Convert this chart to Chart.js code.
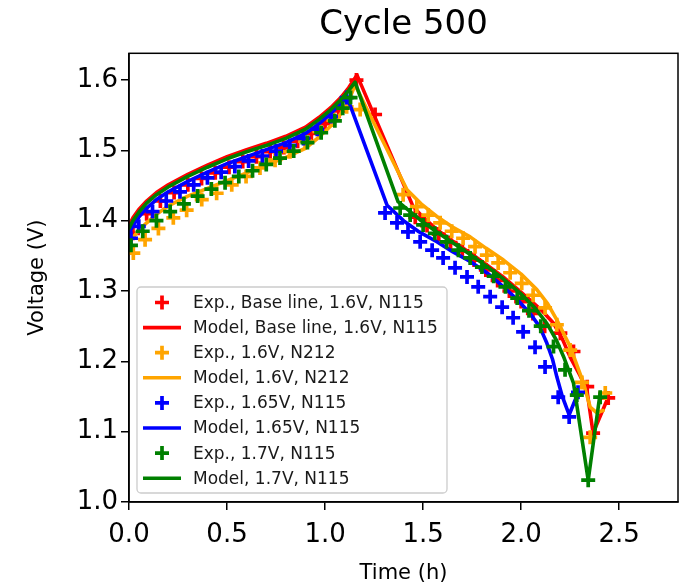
<!DOCTYPE html>
<html><head><meta charset="utf-8">
<script src="https://cdn.jsdelivr.net/npm/chart.js@4"></script>
<style>html,body{margin:0;padding:0;background:#fff}</style>
</head><body>
<canvas id="c" width="692" height="588" style="display:block;width:692px;height:588px"></canvas>
<script>
// ---------- data ----------
const titleText = 'Cycle 500';
const xLabel = 'Time (h)';
const yLabel = 'Voltage (V)';
const xTicks = [0.0, 0.5, 1.0, 1.5, 2.0, 2.5];
const yTicks = [1.0, 1.1, 1.2, 1.3, 1.4, 1.5, 1.6];

const seriesLabels = [
  'Exp., Base line, 1.6V, N115', 'Model, Base line, 1.6V, N115',
  'Exp., 1.6V, N212', 'Model, 1.6V, N212',
  'Exp., 1.65V, N115', 'Model, 1.65V, N115',
  'Exp., 1.7V, N115', 'Model, 1.7V, N115'
];
const seriesColors = ['#ff0000','#ff0000','#ffa500','#ffa500','#0000ff','#0000ff','#008000','#008000'];

// Base line 1.6V N115 (red)
const redExpT = [0.02,0.09,0.16,0.23,0.30,0.37,0.44,0.51,0.58,0.65,0.72,0.79,0.86,0.93,1.00,1.07,1.16,1.255,
                 1.46,1.52,1.58,1.64,1.70,1.76,1.82,1.88,1.94,2.00,2.06,2.12,2.20,2.267,2.337,2.367,2.444];
const redExpV = [1.382,1.410,1.428,1.440,1.451,1.460,1.468,1.476,1.484,1.491,1.498,1.504,1.513,1.524,1.538,1.556,1.600,1.551,
                 1.405,1.393,1.381,1.369,1.357,1.344,1.330,1.315,1.300,1.285,1.268,1.250,1.240,1.214,1.164,1.098,1.148];
const redModT = [0,0.02,0.05,0.09,0.14,0.20,0.30,0.40,0.50,0.60,0.70,0.80,0.90,0.97,1.03,1.08,1.12,1.163,
                 1.449,1.50,1.571,1.65,1.74,1.82,1.908,1.98,2.046,2.11,2.163,2.21,2.25,2.30,2.335,2.367,2.444];
const redModV = [1.393,1.404,1.416,1.428,1.440,1.451,1.466,1.479,1.491,1.501,1.510,1.520,1.533,1.547,1.561,1.575,1.589,1.607,
                 1.420,1.405,1.387,1.371,1.354,1.338,1.320,1.303,1.287,1.271,1.255,1.232,1.206,1.180,1.160,1.098,1.149];

// 1.6V N212 (orange)
const orgExpT = [0.022,0.082,0.150,0.226,0.294,0.371,0.447,0.524,0.597,0.668,0.745,0.821,0.898,0.971,1.043,1.11,1.179,
                 1.398,1.468,1.526,1.587,1.646,1.704,1.765,1.825,1.883,1.944,2.003,2.061,2.122,2.182,2.25,2.31,2.352,2.429];
const orgExpV = [1.354,1.373,1.389,1.404,1.415,1.430,1.439,1.451,1.463,1.475,1.486,1.498,1.513,1.527,1.543,1.562,1.558,
                 1.437,1.420,1.408,1.397,1.385,1.375,1.363,1.351,1.340,1.326,1.311,1.294,1.276,1.252,1.216,1.170,1.092,1.155];
const orgModT = [0,0.02,0.05,0.09,0.14,0.20,0.30,0.40,0.50,0.60,0.70,0.80,0.90,0.97,1.03,1.08,1.12,1.153,
                 1.418,1.49,1.570,1.65,1.740,1.82,1.910,2.0,2.080,2.135,2.182,2.25,2.318,2.352,2.385,2.418];
const orgModV = [1.368,1.376,1.386,1.397,1.409,1.421,1.435,1.446,1.457,1.468,1.479,1.490,1.503,1.519,1.535,1.552,1.570,1.593,
                 1.444,1.424,1.406,1.391,1.377,1.361,1.344,1.324,1.302,1.282,1.259,1.221,1.169,1.135,1.127,1.130];

// 1.65V N115 (blue)
const bluExpT = [0.01,0.05,0.12,0.19,0.26,0.33,0.40,0.47,0.54,0.61,0.68,0.75,0.82,0.89,0.96,1.03,1.11,
                 1.306,1.367,1.423,1.485,1.546,1.602,1.663,1.724,1.781,1.842,1.903,1.959,2.010,2.071,2.122,2.189,2.245,2.29];
const bluExpV = [1.375,1.392,1.413,1.428,1.441,1.451,1.461,1.469,1.477,1.485,1.492,1.499,1.507,1.517,1.530,1.548,1.575,
                 1.411,1.397,1.384,1.370,1.358,1.347,1.333,1.320,1.306,1.292,1.277,1.262,1.242,1.220,1.192,1.149,1.121,1.156];
const bluModT = [0,0.02,0.05,0.09,0.14,0.20,0.30,0.40,0.50,0.60,0.70,0.80,0.90,0.97,1.03,1.08,1.112,
                 1.316,1.40,1.48,1.57,1.65,1.74,1.83,1.91,1.98,2.046,2.095,2.131,2.16,2.182,2.21,2.245,2.29];
const bluModV = [1.382,1.393,1.405,1.418,1.430,1.441,1.456,1.469,1.481,1.491,1.501,1.511,1.524,1.538,1.553,1.566,1.576,
                 1.422,1.400,1.384,1.370,1.356,1.342,1.325,1.306,1.288,1.268,1.249,1.226,1.203,1.178,1.150,1.124,1.155];

// 1.7V N115 (green)
const grnExpT = [0.01,0.07,0.14,0.21,0.28,0.35,0.42,0.49,0.56,0.63,0.70,0.77,0.84,0.91,0.98,1.05,1.09,1.13,
                 1.383,1.434,1.50,1.56,1.62,1.68,1.74,1.80,1.86,1.92,1.98,2.04,2.10,2.165,2.224,2.284,2.342,2.403];
const grnExpV = [1.365,1.385,1.400,1.413,1.424,1.435,1.445,1.454,1.463,1.471,1.480,1.489,1.499,1.511,1.525,1.542,1.560,1.575,
                 1.418,1.408,1.394,1.382,1.370,1.358,1.347,1.334,1.321,1.306,1.290,1.272,1.250,1.221,1.188,1.152,1.031,1.149];
const grnModT = [0,0.02,0.05,0.09,0.14,0.20,0.30,0.40,0.50,0.60,0.70,0.80,0.90,0.97,1.03,1.08,1.12,1.153,
                 1.372,1.485,1.57,1.655,1.74,1.825,1.91,1.995,2.07,2.131,2.18,2.216,2.267,2.342,2.403];
const grnModV = [1.389,1.400,1.412,1.425,1.437,1.448,1.463,1.476,1.488,1.498,1.507,1.517,1.530,1.544,1.558,1.572,1.585,1.597,
                 1.427,1.401,1.384,1.368,1.352,1.335,1.317,1.297,1.276,1.254,1.230,1.207,1.169,1.031,1.155];

// ---------- build datasets ----------
const pts = (T, V) => T.map((t, i) => ({x: t, y: V[i]}));
const series = [
  [redExpT, redExpV, 'exp'], [redModT, redModV, 'model'],
  [orgExpT, orgExpV, 'exp'], [orgModT, orgModV, 'model'],
  [bluExpT, bluExpV, 'exp'], [bluModT, bluModV, 'model'],
  [grnExpT, grnExpV, 'exp'], [grnModT, grnModV, 'model']
];
const datasets = series.map((s, i) => {
  const c = seriesColors[i];
  const base = {label: seriesLabels[i], data: pts(s[0], s[1]), order: series.length - i, clip: 0};
  if (s[2] === 'exp') {
    return Object.assign(base, {showLine: false, pointStyle: 'cross', pointRadius: 7, pointHoverRadius: 7,
      pointBorderWidth: 3.7, borderColor: c, backgroundColor: c});
  }
  return Object.assign(base, {showLine: true, pointRadius: 0, borderWidth: 3.6, borderColor: c,
    backgroundColor: c, tension: 0, borderJoinStyle: 'round', borderCapStyle: 'round', fill: false});
});

const FONT = "'DejaVu Sans', sans-serif";
Chart.defaults.font.family = FONT;
Chart.defaults.color = '#000';

const framePlugin = {
  id: 'frameLegend',
  afterDraw(chart) {
    const ctx = chart.ctx, a = chart.chartArea;
    ctx.save();
    ctx.strokeStyle = '#000'; ctx.lineWidth = 1.5;
    ctx.strokeRect(a.left, a.top, a.right - a.left, a.bottom - a.top);
    // legend
    const bx = a.left + 8, bw = 310, bh = 206, by = a.bottom - 9 - bh;
    ctx.beginPath();
    ctx.roundRect(bx, by, bw, bh, 4);
    ctx.fillStyle = 'rgba(255,255,255,0.8)'; ctx.fill();
    ctx.strokeStyle = '#cccccc'; ctx.lineWidth = 1.3; ctx.stroke();
    ctx.font = '17px ' + FONT; ctx.textBaseline = 'middle'; ctx.textAlign = 'left';
    for (let i = 0; i < seriesLabels.length; i++) {
      const y = by + 15.5 + i * 25.1;
      const c = seriesColors[i];
      ctx.strokeStyle = c;
      if (series[i][2] === 'exp') {
        ctx.lineWidth = 3.7; ctx.beginPath();
        ctx.moveTo(bx + 18, y); ctx.lineTo(bx + 32, y);
        ctx.moveTo(bx + 25, y - 7); ctx.lineTo(bx + 25, y + 7); ctx.stroke();
      } else {
        ctx.lineWidth = 3.6; ctx.beginPath();
        ctx.moveTo(bx + 6, y); ctx.lineTo(bx + 44, y); ctx.stroke();
      }
      ctx.fillStyle = '#1a1a1a';
      ctx.fillText(seriesLabels[i], bx + 56, y + 1);
    }
    ctx.restore();
  }
};

new Chart(document.getElementById('c'), {
  type: 'scatter',
  data: {datasets},
  options: {
    responsive: false, animation: false, devicePixelRatio: 1,
    layout: {padding: {left: 0, right: 14, top: 0, bottom: 0}},
    plugins: {
      legend: {display: false}, tooltip: {enabled: false},
      title: {display: true, text: titleText, fullSize: false, color: '#000',
        font: {size: 34, weight: 'normal', family: FONT}, padding: {top: 5, bottom: 7.5}}
    },
    scales: {
      x: {type: 'linear', min: 0, max: 2.8,
        afterFit(s) { s.height = 86; },
        afterBuildTicks(s) { s.ticks = xTicks.map(v => ({value: v})); },
        ticks: {font: {size: 26}, color: '#000', padding: 10, maxRotation: 0, callback: v => Number(v).toFixed(1)},
        grid: {drawOnChartArea: false, drawTicks: true, tickLength: 8, color: '#000', lineWidth: 1.5},
        border: {display: true, color: '#000', width: 1.5},
        title: {display: true, text: xLabel, font: {size: 21}, color: '#000', padding: {top: 0, bottom: 2}}
      },
      y: {type: 'linear', min: 1.0, max: 1.638,
        afterFit(s) { s.width = 129; },
        afterBuildTicks(s) { s.ticks = yTicks.map(v => ({value: v})); },
        ticks: {font: {size: 26}, color: '#000', padding: 3, callback: v => Number(v).toFixed(1)},
        grid: {drawOnChartArea: false, drawTicks: true, tickLength: 8, color: '#000', lineWidth: 1.5},
        border: {display: true, color: '#000', width: 1.5},
        title: {display: true, text: yLabel, font: {size: 21}, color: '#000', padding: {top: 25, bottom: 0}}
      }
    }
  },
  plugins: [framePlugin]
});
</script>
</body></html>
